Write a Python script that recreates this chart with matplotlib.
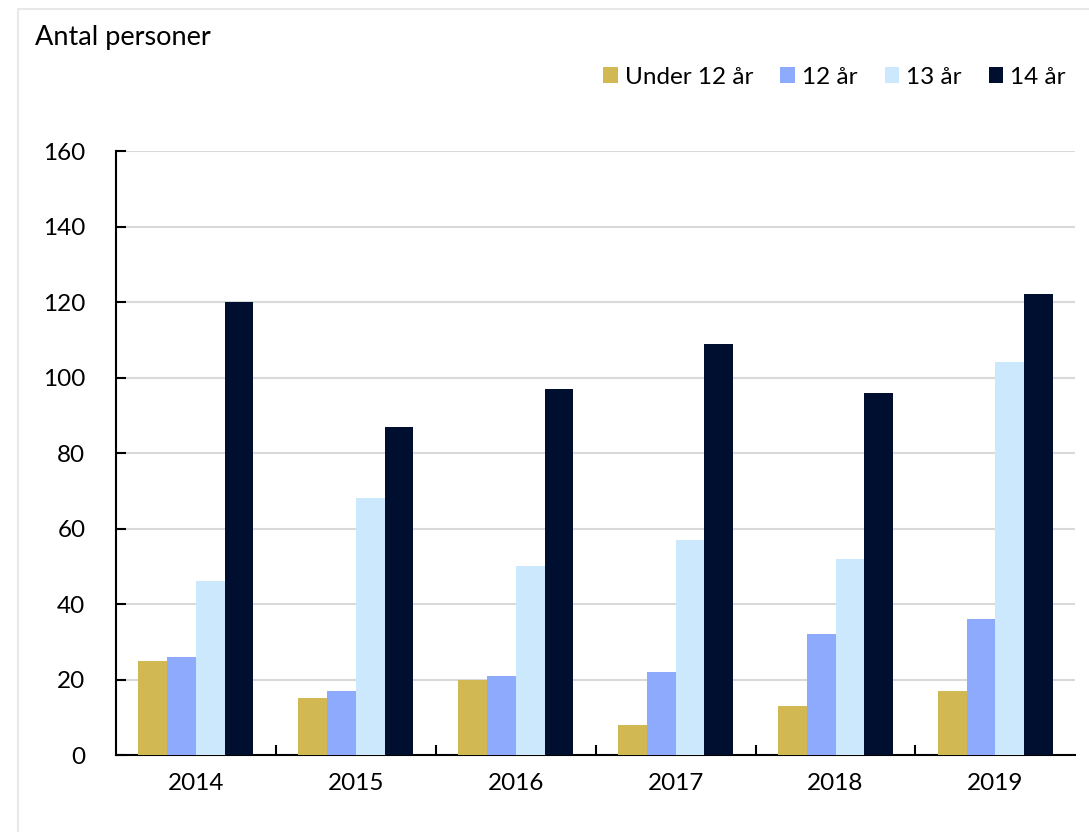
import numpy as np
import matplotlib.pyplot as plt
from matplotlib.patches import Rectangle

plt.rcParams['font.family'] = ['Lato', 'DejaVu Sans']

years = ['2014', '2015', '2016', '2017', '2018', '2019']
under12 = [25, 15, 20, 8, 13, 17]
age12 = [26, 17, 21, 22, 32, 36]
age13 = [46, 68, 50, 57, 52, 104]
age14 = [120, 87, 97, 109, 96, 122]
labels = ['Under 12 år', '12 år', '13 år', '14 år']
colors = ['#D1B853', '#8EAAFD', '#CCE8FD', '#000F2F']

fig = plt.figure(figsize=(10.89, 8.32), dpi=100)
# light frame around the figure
fig.patches.append(Rectangle((18/1089, -0.05), 1.0, 1.05 - 9/832, transform=fig.transFigure,
                             fill=False, edgecolor='#e8e8e8', linewidth=1.5))
ax = fig.add_axes([0.1065, 0.0925, 0.881, 0.726])

x = np.arange(len(years))
w = 0.18
series = [under12, age12, age13, age14]
for i, vals in enumerate(series):
    ax.bar(x + (i - 1.5) * w, vals, w, color=colors[i], label=labels[i], zorder=3)

ax.set_xlim(-0.5, len(years) - 0.5)
ax.set_ylim(0, 160)
ax.set_yticks(range(0, 161, 20))
ax.yaxis.grid(True, color='#d9d9d9', linewidth=1.5, zorder=0)
ax.set_xticks(x)
ax.set_xticklabels(years)
ax.set_xticks(np.arange(0.5, len(years) - 1, 1), minor=True)
ax.tick_params(axis='x', which='major', length=0, pad=13, labelsize=17.5)
ax.tick_params(axis='x', which='minor', direction='in', length=7, width=1.5)
ax.tick_params(axis='y', direction='in', length=7, width=1.5, pad=22, labelsize=17.5)
for s in ['top', 'right']:
    ax.spines[s].set_visible(False)
for s in ['left', 'bottom']:
    ax.spines[s].set_linewidth(1.5)

fig.text(35/1089, 1 - 38/832, 'Antal personer', fontsize=19.5, va='center', ha='left')
fig.legend(loc='center right', bbox_to_anchor=(1066/1089, 1 - 77/832), ncol=4, frameon=False,
           fontsize=17.5, handlelength=0.6, handleheight=0.6, handletextpad=0.3, columnspacing=1.1,
           borderaxespad=0, borderpad=0)

fig.savefig('out.png', dpi=100)
